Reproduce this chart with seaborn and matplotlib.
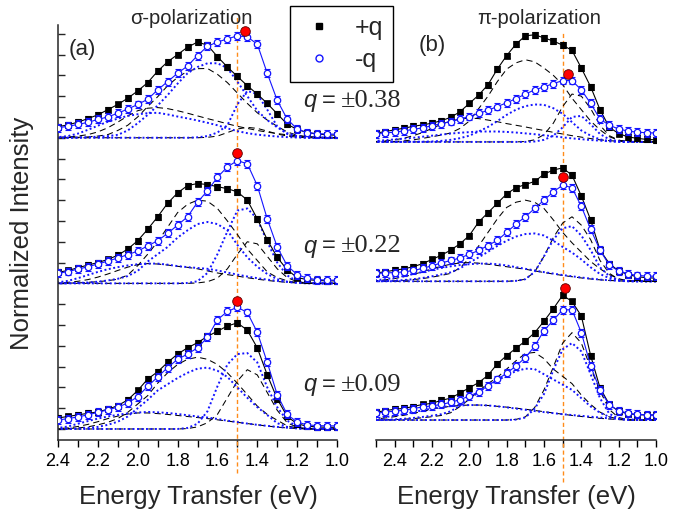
import numpy as np
import matplotlib
matplotlib.use("Agg")
import matplotlib.pyplot as plt
import seaborn as sns
from matplotlib.lines import Line2D
from matplotlib.ticker import FixedLocator

# ---------------- data ----------------
energy_sigma = [2.40, 2.35, 2.30, 2.25, 2.20, 2.15, 2.10, 2.05, 2.00, 1.95, 1.90, 1.85, 1.80, 1.75, 1.70,
                1.65, 1.60, 1.55, 1.50, 1.45, 1.40, 1.35, 1.30, 1.25, 1.20, 1.15, 1.10, 1.05, 1.00]
energy_pi = [2.50, 2.45, 2.40, 2.35, 2.30, 2.25, 2.20, 2.15, 2.10, 2.05, 2.00, 1.95, 1.90, 1.85, 1.80, 1.75,
             1.70, 1.65, 1.60, 1.55, 1.50, 1.45, 1.40, 1.35, 1.30, 1.25, 1.20, 1.15, 1.10, 1.05, 1.00]

q_labels = ["±0.38", "±0.22", "±0.09"]

# sigma polarization, measured spectra
sig38_plus = [0.53, 0.62, 0.75, 0.92, 1.10, 1.35, 1.60, 1.90, 2.25, 2.65, 3.20, 3.65, 4.00, 4.35, 4.60,
              4.45, 3.90, 3.40, 2.95, 2.50, 2.10, 1.65, 1.15, 0.65, 0.40, 0.25, 0.18, 0.14, 0.12]
sig38_minus = [0.48, 0.55, 0.64, 0.74, 0.88, 1.00, 1.18, 1.38, 1.60, 1.85, 2.30, 2.70, 3.10, 3.45, 3.95,
               4.40, 4.60, 4.75, 4.90, 4.85, 4.50, 3.10, 1.80, 0.90, 0.42, 0.25, 0.20, 0.18, 0.17]
sig22_plus = [0.53, 0.62, 0.75, 0.88, 1.00, 1.15, 1.35, 1.65, 2.05, 2.60, 3.20, 3.85, 4.35, 4.70, 4.80,
              4.75, 4.65, 4.55, 4.40, 4.00, 3.10, 2.10, 1.25, 0.65, 0.28, 0.18, 0.14, 0.12, 0.12]
sig22_minus = [0.48, 0.57, 0.68, 0.80, 0.93, 1.07, 1.22, 1.38, 1.55, 1.80, 2.05, 2.40, 2.80, 3.20, 3.90,
               4.45, 5.10, 5.60, 5.90, 5.75, 4.70, 3.10, 1.75, 0.85, 0.42, 0.25, 0.18, 0.16, 0.15]
sig09_plus = [0.53, 0.60, 0.68, 0.75, 0.82, 0.95, 1.12, 1.40, 1.85, 2.40, 2.75, 3.20, 3.60, 3.90, 4.15,
              4.45, 4.70, 4.95, 5.10, 4.75, 3.90, 2.60, 1.45, 0.60, 0.25, 0.13, 0.10, 0.08, 0.08]
sig09_minus = [0.43, 0.50, 0.58, 0.68, 0.80, 0.92, 1.05, 1.25, 1.55, 2.05, 2.50, 2.95, 3.35, 3.60, 3.90,
               4.40, 5.25, 5.65, 5.85, 5.60, 4.65, 3.20, 1.65, 0.70, 0.33, 0.20, 0.16, 0.15, 0.15]

# sigma polarization, fitted components (broad, main, sharp)
sig38_fit_plus_broad = [0.02, 0.04, 0.08, 0.15, 0.28, 0.48, 0.75, 1.05, 1.30, 1.42, 1.45, 1.40, 1.30, 1.18, 1.05,
                        0.92, 0.80, 0.67, 0.55, 0.45, 0.35, 0.27, 0.20, 0.14, 0.09, 0.05, 0.03, 0.01, 0.00]
sig38_fit_plus_main = [0.00, 0.01, 0.02, 0.04, 0.08, 0.15, 0.35, 0.60, 1.00, 1.50, 1.97, 2.50, 2.90, 3.20, 3.32,
                       3.33, 3.05, 2.65, 2.15, 1.65, 1.20, 0.85, 0.55, 0.28, 0.12, 0.05, 0.02, 0.00, 0.00]
sig38_fit_plus_sharp = [0.0] * 15 + [0.02, 0.08, 0.25, 0.42, 0.50, 0.45, 0.32, 0.18, 0.08, 0.03, 0.0, 0.0, 0.0, 0.0]
sig38_fit_minus_broad = [0.03, 0.08, 0.20, 0.38, 0.58, 0.77, 0.92, 1.05, 1.13, 1.18, 1.20, 1.12, 1.02, 0.93, 0.83,
                         0.72, 0.60, 0.45, 0.32, 0.22, 0.15, 0.10, 0.06, 0.03, 0.01, 0.00, 0.00, 0.00, 0.00]
sig38_fit_minus_main = [0.00, 0.00, 0.01, 0.03, 0.05, 0.08, 0.14, 0.35, 0.70, 1.10, 1.55, 2.05, 2.60, 3.10, 3.40,
                        3.58, 3.58, 3.35, 2.70, 2.00, 1.30, 0.85, 0.50, 0.22, 0.08, 0.02, 0.00, 0.00, 0.00]
sig38_fit_minus_sharp = [0.0] * 14 + [0.02, 0.08, 0.25, 0.60, 1.60, 2.25, 2.10, 1.35, 0.55, 0.18, 0.05, 0.01,
                                      0.0, 0.0, 0.0]

sig22_fit_plus_broad = [0.02, 0.05, 0.10, 0.18, 0.30, 0.45, 0.62, 0.78, 0.90, 0.95, 0.93, 0.88, 0.82, 0.77, 0.70,
                        0.60, 0.50, 0.42, 0.35, 0.27, 0.20, 0.14, 0.09, 0.05, 0.02, 0.00, 0.00, 0.00, 0.00]
sig22_fit_plus_main = [0.00, 0.01, 0.02, 0.05, 0.08, 0.13, 0.20, 0.40, 0.85, 1.40, 2.00, 2.70, 3.40, 3.80, 4.00,
                       3.95, 3.60, 3.00, 2.35, 1.65, 1.10, 0.55, 0.28, 0.12, 0.04, 0.01, 0.00, 0.00, 0.00]
sig22_fit_plus_sharp = [0.0] * 14 + [0.02, 0.08, 0.25, 0.70, 1.40, 2.00, 1.90, 1.30, 0.70, 0.28, 0.08, 0.02,
                                     0.0, 0.0, 0.0]
sig22_fit_minus_broad = [0.05, 0.12, 0.25, 0.40, 0.55, 0.68, 0.78, 0.86, 0.92, 0.95, 0.95, 0.90, 0.83, 0.78, 0.74,
                         0.70, 0.62, 0.52, 0.42, 0.33, 0.25, 0.18, 0.12, 0.07, 0.04, 0.02, 0.00, 0.00, 0.00]
sig22_fit_minus_main = [0.00, 0.01, 0.02, 0.04, 0.08, 0.14, 0.22, 0.35, 0.60, 1.05, 1.40, 1.75, 2.20, 2.55, 2.85,
                        2.95, 2.85, 2.55, 1.85, 1.25, 0.80, 0.45, 0.20, 0.08, 0.02, 0.00, 0.00, 0.00, 0.00]
sig22_fit_minus_sharp = [0.0] * 13 + [0.02, 0.10, 0.50, 1.40, 2.50, 3.50, 3.60, 3.10, 2.00, 1.00, 0.38, 0.10,
                                      0.02, 0.0, 0.0, 0.0]

sig09_fit_plus_broad = [0.02, 0.05, 0.12, 0.22, 0.35, 0.50, 0.62, 0.72, 0.77, 0.77, 0.74, 0.70, 0.65, 0.60, 0.55,
                        0.50, 0.44, 0.38, 0.32, 0.26, 0.20, 0.14, 0.09, 0.05, 0.02, 0.00, 0.00, 0.00, 0.00]
sig09_fit_plus_main = [0.00, 0.02, 0.05, 0.10, 0.20, 0.32, 0.50, 0.80, 1.20, 1.60, 2.20, 2.70, 3.10, 3.35, 3.45,
                       3.35, 3.10, 2.70, 2.20, 1.65, 1.10, 0.70, 0.42, 0.15, 0.05, 0.01, 0.00, 0.00, 0.00]
sig09_fit_plus_sharp = [0.0] * 13 + [0.02, 0.10, 0.30, 0.70, 1.50, 2.30, 2.85, 2.60, 1.75, 0.90, 0.30, 0.08,
                                     0.02, 0.0, 0.0, 0.0]
sig09_fit_minus_broad = [0.05, 0.12, 0.25, 0.38, 0.50, 0.60, 0.68, 0.75, 0.79, 0.82, 0.80, 0.77, 0.72, 0.66, 0.60,
                         0.55, 0.48, 0.40, 0.33, 0.26, 0.20, 0.15, 0.10, 0.06, 0.03, 0.01, 0.00, 0.00, 0.00]
sig09_fit_minus_main = [0.00, 0.01, 0.02, 0.05, 0.10, 0.20, 0.35, 0.60, 1.00, 1.40, 1.85, 2.15, 2.45, 2.70, 2.90,
                        2.95, 2.80, 2.50, 2.00, 1.50, 1.05, 0.67, 0.28, 0.10, 0.03, 0.00, 0.00, 0.00, 0.00]
sig09_fit_minus_sharp = [0.0] * 13 + [0.05, 0.25, 0.85, 2.05, 3.10, 3.60, 3.65, 3.20, 2.00, 1.05, 0.40, 0.12,
                                      0.03, 0.0, 0.0, 0.0]

# pi polarization, measured spectra
pi38_plus = [0.42, 0.50, 0.58, 0.66, 0.75, 0.82, 0.90, 1.02, 1.18, 1.45, 1.85, 2.25, 2.75, 3.50, 4.15, 4.70,
             5.10, 5.15, 5.00, 4.85, 4.65, 4.40, 3.55, 2.65, 1.55, 0.70, 0.40, 0.24, 0.17, 0.12, 0.10]
pi38_minus = [0.40, 0.43, 0.47, 0.53, 0.60, 0.68, 0.78, 0.88, 0.98, 1.10, 1.22, 1.37, 1.52, 1.70, 1.88, 2.08,
              2.30, 2.50, 2.65, 2.80, 2.95, 2.95, 2.50, 1.85, 1.10, 0.80, 0.62, 0.52, 0.47, 0.44, 0.43]
pi22_plus = [0.40, 0.46, 0.53, 0.60, 0.70, 0.85, 1.05, 1.25, 1.50, 1.80, 2.20, 2.85, 3.30, 3.75, 4.20, 4.50,
             4.65, 4.80, 5.15, 5.35, 5.45, 5.10, 4.10, 2.95, 1.50, 0.85, 0.50, 0.32, 0.22, 0.17, 0.15]
pi22_minus = [0.38, 0.40, 0.42, 0.45, 0.52, 0.62, 0.75, 0.88, 1.00, 1.12, 1.30, 1.48, 1.72, 1.97, 2.35, 2.75,
              3.10, 3.50, 3.90, 4.30, 4.62, 4.50, 3.60, 2.50, 1.50, 0.77, 0.50, 0.36, 0.28, 0.25, 0.24]
pi09_plus = [0.38, 0.45, 0.52, 0.56, 0.65, 0.75, 0.80, 0.95, 1.05, 1.30, 1.55, 1.80, 2.15, 2.70, 3.10, 3.45,
             3.80, 4.20, 4.75, 5.35, 6.00, 5.70, 5.00, 3.10, 1.55, 0.75, 0.42, 0.30, 0.26, 0.24, 0.24]
pi09_minus = [0.33, 0.38, 0.43, 0.47, 0.55, 0.63, 0.68, 0.75, 0.85, 0.98, 1.15, 1.35, 1.65, 1.95, 2.25, 2.60,
              3.00, 3.55, 4.30, 4.80, 5.30, 5.30, 4.20, 2.60, 1.45, 0.72, 0.45, 0.33, 0.27, 0.25, 0.24]

# pi polarization, fitted components
pi38_fit_plus_broad = [0.02, 0.05, 0.10, 0.18, 0.30, 0.45, 0.65, 0.85, 1.00, 1.10, 1.15, 1.12, 1.05, 0.97, 0.88,
                       0.80, 0.72, 0.63, 0.55, 0.46, 0.38, 0.30, 0.23, 0.16, 0.10, 0.06, 0.03, 0.01, 0.00, 0.00, 0.00]
pi38_fit_plus_main = [0.00, 0.01, 0.02, 0.05, 0.10, 0.17, 0.25, 0.33, 0.43, 0.65, 1.00, 1.60, 2.20, 2.90, 3.50,
                      3.80, 3.95, 3.85, 3.55, 3.20, 2.75, 2.10, 1.55, 1.00, 0.58, 0.25, 0.08, 0.02, 0.00, 0.00, 0.00]
pi38_fit_plus_sharp = [0.0] * 16 + [0.02, 0.10, 0.35, 0.90, 1.70, 2.30, 2.20, 1.60, 0.80, 0.30, 0.08, 0.02,
                                    0.0, 0.0, 0.0]
pi38_fit_minus_broad = [0.05, 0.08, 0.12, 0.16, 0.20, 0.25, 0.30, 0.35, 0.40, 0.44, 0.47, 0.50, 0.50, 0.50, 0.48,
                        0.45, 0.41, 0.37, 0.32, 0.27, 0.22, 0.17, 0.13, 0.09, 0.06, 0.03, 0.01, 0.00, 0.00, 0.00, 0.00]
pi38_fit_minus_main = [0.00, 0.00, 0.00, 0.00, 0.01, 0.01, 0.02, 0.05, 0.10, 0.18, 0.30, 0.50, 0.72, 1.00, 1.30,
                       1.55, 1.72, 1.80, 1.78, 1.62, 1.35, 0.95, 0.55, 0.30, 0.12, 0.04, 0.00, 0.00, 0.00, 0.00, 0.00]
pi38_fit_minus_sharp = [0.0] * 17 + [0.02, 0.10, 0.30, 0.70, 1.20, 1.25, 0.85, 0.38, 0.12, 0.03, 0.0, 0.0, 0.0, 0.0]

pi22_fit_plus_broad = [0.03, 0.07, 0.13, 0.22, 0.33, 0.46, 0.60, 0.72, 0.82, 0.88, 0.90, 0.87, 0.82, 0.76, 0.70,
                       0.64, 0.58, 0.50, 0.42, 0.35, 0.28, 0.22, 0.16, 0.11, 0.07, 0.04, 0.02, 0.00, 0.00, 0.00, 0.00]
pi22_fit_plus_main = [0.00, 0.01, 0.02, 0.04, 0.08, 0.13, 0.20, 0.28, 0.38, 0.65, 1.10, 1.70, 2.35, 3.00, 3.55,
                      3.80, 3.90, 3.80, 3.50, 2.95, 2.35, 1.85, 1.40, 0.95, 0.60, 0.32, 0.12, 0.03, 0.00, 0.00, 0.00]
pi22_fit_plus_sharp = [0.0] * 15 + [0.02, 0.10, 0.45, 1.20, 2.10, 2.80, 3.10, 2.70, 2.00, 1.00, 0.38, 0.10, 0.02,
                                    0.0, 0.0, 0.0]
pi22_fit_minus_broad = [0.05, 0.10, 0.17, 0.25, 0.35, 0.45, 0.55, 0.64, 0.72, 0.78, 0.82, 0.85, 0.85, 0.82, 0.76,
                        0.68, 0.60, 0.52, 0.44, 0.37, 0.30, 0.24, 0.18, 0.13, 0.08, 0.05, 0.02, 0.00, 0.00, 0.00, 0.00]
pi22_fit_minus_main = [0.00, 0.01, 0.03, 0.06, 0.10, 0.16, 0.24, 0.33, 0.43, 0.62, 0.90, 1.15, 1.42, 1.70, 1.95,
                       2.15, 2.27, 2.30, 2.20, 1.95, 1.65, 1.38, 1.05, 0.67, 0.35, 0.15, 0.05, 0.01, 0.00, 0.00, 0.00]
pi22_fit_minus_sharp = [0.0] * 15 + [0.02, 0.10, 0.45, 1.20, 2.00, 2.55, 2.65, 2.20, 1.50, 0.67, 0.25, 0.07,
                                     0.01, 0.0, 0.0, 0.0]

pi09_fit_plus_broad = [0.05, 0.10, 0.16, 0.23, 0.32, 0.42, 0.52, 0.60, 0.66, 0.70, 0.72, 0.72, 0.70, 0.66, 0.62,
                       0.57, 0.52, 0.46, 0.40, 0.34, 0.28, 0.22, 0.17, 0.12, 0.08, 0.05, 0.02, 0.00, 0.00, 0.00, 0.00]
pi09_fit_plus_main = [0.00, 0.01, 0.02, 0.04, 0.07, 0.11, 0.16, 0.22, 0.35, 0.65, 1.00, 1.40, 1.75, 2.05, 2.45,
                      2.85, 3.20, 3.25, 2.95, 2.45, 2.10, 1.75, 1.20, 0.75, 0.38, 0.15, 0.05, 0.01, 0.00, 0.00, 0.00]
pi09_fit_plus_sharp = [0.0] * 15 + [0.03, 0.15, 0.60, 1.45, 2.55, 3.70, 4.20, 3.70, 2.50, 1.40, 0.50, 0.12, 0.02,
                                    0.0, 0.0, 0.0]
pi09_fit_minus_broad = [0.08, 0.14, 0.21, 0.29, 0.38, 0.47, 0.55, 0.62, 0.67, 0.70, 0.72, 0.72, 0.70, 0.66, 0.61,
                        0.55, 0.49, 0.43, 0.38, 0.33, 0.28, 0.24, 0.20, 0.16, 0.12, 0.08, 0.05, 0.03, 0.01, 0.00, 0.00]
pi09_fit_minus_main = [0.00, 0.01, 0.03, 0.06, 0.10, 0.15, 0.21, 0.28, 0.42, 0.70, 1.00, 1.35, 1.65, 1.90, 2.15,
                       2.35, 2.47, 2.45, 2.20, 1.95, 1.70, 1.45, 1.05, 0.65, 0.35, 0.15, 0.05, 0.01, 0.00, 0.00, 0.00]
pi09_fit_minus_sharp = [0.0] * 15 + [0.02, 0.12, 0.55, 1.25, 2.40, 3.40, 3.70, 3.30, 2.20, 1.05, 0.30, 0.07,
                                     0.01, 0.0, 0.0, 0.0]

# red peak markers (energy, intensity above each baseline)
sig_peak_energy = [1.46, 1.50, 1.50]
sig_peak_value = [5.15, 6.25, 6.15]
pi_peak_energy = [1.47, 1.50, 1.49]
pi_peak_value = [3.27, 5.00, 6.35]

err_plus = 0.14
err_minus = 0.19

# ---------------- style ----------------
sns.set_style("ticks")
plt.rcParams['font.family'] = ['Liberation Sans', 'DejaVu Sans']
plt.rcParams['axes.linewidth'] = 1.1

W, H = 685, 515
fig = plt.figure(figsize=(W / 100, H / 100), dpi=100)


def fx(px):
    return px / W


def fy(py):
    return 1 - py / H


axL = fig.add_axes([fx(58), fy(440), 279 / W, 415 / H])
axR = fig.add_axes([fx(376), fy(440), 280 / W, 415 / H])

BLUE = '#1414ff'
ORANGE = '#ff8c1a'


def draw_panel(ax, energy, spectra, offsets, peak_e, peak_v):
    e = np.array(energy)
    for (plus, minus, fits_p, fits_m), off in zip(spectra, offsets):
        for comp in fits_p:
            sns.lineplot(x=e, y=np.array(comp) + off, ax=ax, color='black', lw=0.75,
                         linestyle=(0, (6, 4)), zorder=2, errorbar=None)
        for comp in fits_m:
            sns.lineplot(x=e, y=np.array(comp) + off, ax=ax, color=BLUE, lw=1.4,
                         linestyle=(0, (1, 1.3)), zorder=2.1, errorbar=None)
        p = np.array(plus) + off
        ax.errorbar(e, p, yerr=err_plus, fmt='none', ecolor='black', elinewidth=0.8,
                    capsize=2.2, capthick=0.8, zorder=3)
        sns.lineplot(x=e, y=p, ax=ax, color='black', lw=0.8, marker='s', markersize=4.0,
                     markeredgecolor='black', markeredgewidth=0.5, zorder=3.2, errorbar=None)
        m = np.array(minus) + off
        ax.errorbar(e, m, yerr=err_minus, fmt='none', ecolor=BLUE, elinewidth=0.8,
                    capsize=2.4, capthick=0.8, zorder=3.4)
        sns.lineplot(x=e, y=m, ax=ax, color=BLUE, lw=0.8, marker='o', markersize=4.6,
                     markerfacecolor='white', markeredgecolor=BLUE, markeredgewidth=0.9,
                     zorder=3.6, errorbar=None)
    ys = [v + o for v, o in zip(peak_v, offsets)]
    ax.scatter(peak_e, ys, s=48, color='red', edgecolor='#5a0000', linewidth=0.6,
               zorder=10, clip_on=False)


sig_spectra = [
    (sig38_plus, sig38_minus,
     [sig38_fit_plus_broad, sig38_fit_plus_main, sig38_fit_plus_sharp],
     [sig38_fit_minus_broad, sig38_fit_minus_main, sig38_fit_minus_sharp]),
    (sig22_plus, sig22_minus,
     [sig22_fit_plus_broad, sig22_fit_plus_main, sig22_fit_plus_sharp],
     [sig22_fit_minus_broad, sig22_fit_minus_main, sig22_fit_minus_sharp]),
    (sig09_plus, sig09_minus,
     [sig09_fit_plus_broad, sig09_fit_plus_main, sig09_fit_plus_sharp],
     [sig09_fit_minus_broad, sig09_fit_minus_main, sig09_fit_minus_sharp]),
]
pi_spectra = [
    (pi38_plus, pi38_minus,
     [pi38_fit_plus_broad, pi38_fit_plus_main, pi38_fit_plus_sharp],
     [pi38_fit_minus_broad, pi38_fit_minus_main, pi38_fit_minus_sharp]),
    (pi22_plus, pi22_minus,
     [pi22_fit_plus_broad, pi22_fit_plus_main, pi22_fit_plus_sharp],
     [pi22_fit_minus_broad, pi22_fit_minus_main, pi22_fit_minus_sharp]),
    (pi09_plus, pi09_minus,
     [pi09_fit_plus_broad, pi09_fit_plus_main, pi09_fit_plus_sharp],
     [pi09_fit_minus_broad, pi09_fit_minus_main, pi09_fit_minus_sharp]),
]

sig_offsets = [14.0, 7.0, 0.0]
pi_offsets = [13.8, 7.1, 0.43]

draw_panel(axL, energy_sigma, sig_spectra, sig_offsets, sig_peak_energy, sig_peak_value)
draw_panel(axR, energy_pi, pi_spectra, pi_offsets, pi_peak_energy, pi_peak_value)

# orange reference lines at 1.5 eV
axL.axvline(1.5, ymin=-0.08, ymax=1.024, color=ORANGE, lw=1.0, ls=(0, (3, 2)), clip_on=False, zorder=1)
axR.axvline(1.5, ymin=-0.10, ymax=0.983, color=ORANGE, lw=1.0, ls=(0, (3, 2)), clip_on=False, zorder=1)

# axes formatting
major = [2.4, 2.2, 2.0, 1.8, 1.6, 1.4, 1.2, 1.0]
for ax, lo in ((axL, 2.4), (axR, 2.5)):
    ax.set_ylim(-0.53, 19.42)
    ax.set_xlim(lo, 1.0)
    ax.xaxis.set_major_locator(FixedLocator(major))
    n = int(round((lo - 1.0) / 0.1)) + 1
    ax.xaxis.set_minor_locator(FixedLocator([round(lo - 0.1 * i, 2) for i in range(n)]))
    ax.set_xticklabels([f"{v:.1f}" for v in major])
    ax.tick_params(axis='x', which='both', direction='out', length=5, width=1, labelsize=13,
                   pad=4, colors='black')
    ax.set_xlabel('')
    ax.set_ylabel('')
    ax.spines['top'].set_visible(False)
    ax.spines['right'].set_visible(False)
    ax.patch.set_alpha(0)

axL.set_yticks(range(0, 20))
axL.set_yticklabels([])
axL.tick_params(axis='y', direction='in', length=5, width=1)
axR.spines['left'].set_visible(False)
axR.set_yticks([])

# texts
fig.text(fx(191), fy(18), 'σ-polarization', fontsize=14.5, ha='center', va='center')
fig.text(fx(539), fy(18), 'π-polarization', fontsize=14.5, ha='center', va='center')
fig.text(fx(82), fy(50), '(a)', fontsize=16, ha='center', va='center')
fig.text(fx(432), fy(45), '(b)', fontsize=16, ha='center', va='center')

for lab, py in zip(q_labels, [101, 246, 385]):
    fig.text(fx(303), fy(py), 'q', fontsize=17, style='italic', ha='left', va='center')
    fig.text(fx(322), fy(py), '=', fontsize=17, ha='left', va='center')
    fig.text(fx(341), fy(py), lab, fontsize=19, family='Liberation Serif', ha='left', va='center')

fig.text(fx(22), fy(233), 'Normalized Intensity', fontsize=18.5, rotation=90, ha='center', va='center')
fig.text(fx(198), fy(497), 'Energy Transfer (eV)', fontsize=18.5, ha='center', va='center')
fig.text(fx(516), fy(497), 'Energy Transfer (eV)', fontsize=18.5, ha='center', va='center')

# legend
handles = [Line2D([], [], ls='none', marker='s', color='black', markersize=4.5),
           Line2D([], [], ls='none', marker='o', markerfacecolor='none', markeredgecolor=BLUE,
                  markeredgewidth=1, markersize=5)]
leg = fig.legend(handles, ['+q', '-q'], loc='upper left', bbox_to_anchor=(fx(290), fy(6)),
                 borderaxespad=0, frameon=True, fancybox=False, edgecolor='black', framealpha=1,
                 fontsize=18, handlelength=1.5, handletextpad=0.7, borderpad=0.4, labelspacing=0.3)
leg.get_frame().set_linewidth(1.0)

fig.savefig('out.png', dpi=100)
